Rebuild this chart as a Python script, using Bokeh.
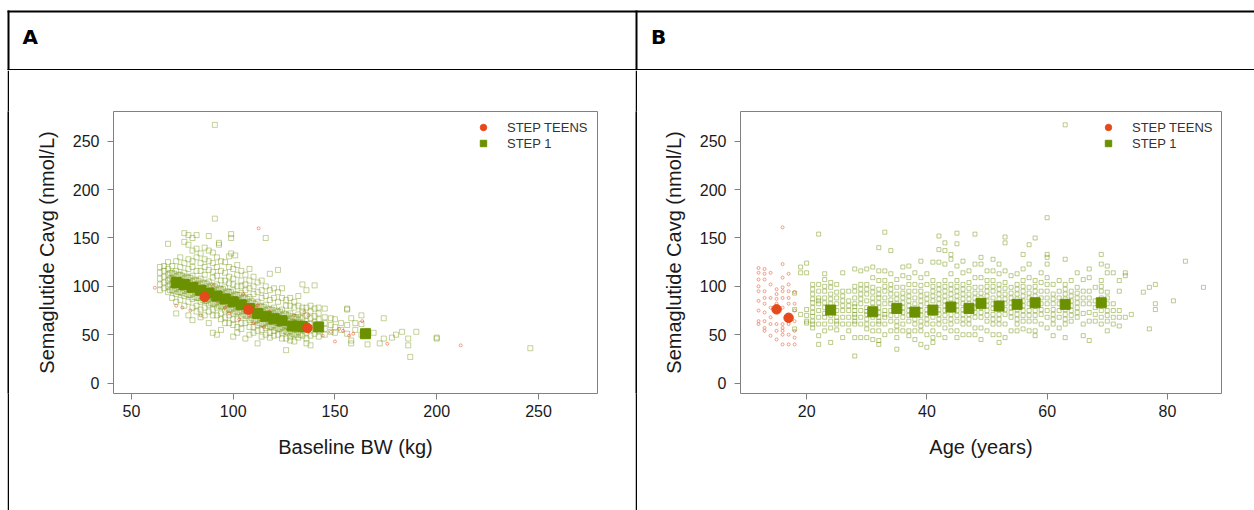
from bokeh.plotting import figure
from bokeh.models import (Range1d, Legend, LegendItem, FixedTicker, Spacer)
from bokeh.core.properties import value
from bokeh.layouts import row, column
from bokeh.embed import file_html
from bokeh.resources import INLINE

ORANGE = "#E8491B"
GREEN = "#6B9100"
FRAME = "#808080"
FONT = "Liberation Sans"
TXT = "#1a1a1a"

# ---------------- Panel A : Cavg vs baseline body weight ----------------
a_step1_bw = [64, 66, 68, 70, 72, 74, 76, 78, 80, 82, 84, 86, 88, 90, 91, 92, 93, 94,
              96, 98, 99, 100, 101, 102, 104, 106, 108, 110, 112, 114, 116, 118, 120,
              122, 124, 126, 128, 130, 132, 134, 136, 138, 140, 142, 145, 148, 150, 153,
              156, 158, 160, 163, 166, 169, 172, 174, 178, 180, 183, 186, 187, 190, 200, 246]
a_step1_cavg = [
    [120, 114, 108, 102, 96],
    [121, 116, 110, 104, 98],
    [144, 125, 118, 112, 106, 100, 94],
    [121, 114, 108, 102, 96, 88],
    [126, 116, 110, 104, 98, 92, 84, 72],
    [130, 120, 112, 106, 100, 94, 86],
    [155, 146, 124, 114, 108, 102, 96, 90, 80],
    [153, 143, 128, 118, 109, 103, 97, 91, 84, 70],
    [150, 137, 126, 120, 111, 105, 99, 93, 87, 78, 65],
    [153, 139, 130, 116, 106, 100, 94, 88, 80, 74],
    [134, 124, 116, 108, 102, 96, 90, 84, 76, 68],
    [140, 128, 120, 112, 103, 97, 91, 85, 78, 70],
    [152, 137, 126, 117, 105, 99, 93, 87, 81, 74, 62],
    [135, 124, 115, 109, 100, 94, 88, 82, 76, 70, 52],
    [267, 170],
    [130, 120, 111, 102, 96, 90, 84, 78, 70, 50],
    [145, 143],
    [126, 116, 106, 97, 91, 85, 79, 72, 66, 55],
    [125, 114, 106, 99, 93, 87, 81, 75, 68, 62],
    [131, 120, 110, 103, 94, 88, 82, 76, 70, 62],
    [154, 150, 134],
    [118, 108, 102, 96, 90, 84, 78, 72, 66, 60, 48],
    [132],
    [122, 112, 100, 91, 85, 79, 73, 66, 58, 52],
    [116, 106, 100, 93, 87, 81, 75, 69, 62, 56],
    [112, 102, 96, 88, 82, 76, 70, 62, 46],
    [118, 106, 98, 89, 83, 77, 71, 65, 58, 50],
    [110, 100, 92, 83, 77, 71, 65, 58, 52],
    [104, 94, 84, 78, 72, 66, 60, 54, 41],
    [106, 96, 88, 79, 73, 67, 61, 55, 48],
    [150, 100, 90, 81, 75, 69, 63, 57, 50],
    [113, 96, 86, 76, 70, 64, 58, 52, 47],
    [98, 88, 78, 72, 66, 60, 54, 49],
    [117, 94, 84, 74, 68, 62, 56, 50],
    [98, 88, 76, 70, 64, 58, 52, 46],
    [86, 80, 71, 65, 59, 53, 46, 34],
    [88, 80, 72, 66, 60, 54, 48, 44],
    [84, 78, 68, 62, 56, 50, 43],
    [90, 80, 71, 65, 59, 53, 47],
    [102, 78, 74, 67, 61, 55, 49],
    [96, 78, 70, 64, 58, 52, 46, 41],
    [80, 74, 67, 61, 55, 49, 39],
    [101, 77, 69, 63, 57, 51],
    [78, 72, 66, 60, 54, 48],
    [77, 68, 62, 56, 50],
    [67, 60, 53], [66, 58, 52], [62, 55], [77, 76, 60, 51], [67, 44, 41], [62, 55],
    [70, 61, 50], [54, 40], [52], [41], [67, 46], [47], [50], [53], [46, 39], [27],
    [53], [47, 46], [36],
]
# dense core of the STEP 1 cloud (odd body weights)
a_core_bw = [69, 71, 73, 75, 77, 79, 81, 83, 85, 87, 89, 91, 93, 95, 97, 99, 101, 103,
             105, 107, 109, 111, 113, 115, 117, 119, 121, 123, 125, 127, 129, 131, 133]
a_core_cavg = [
    [114, 108, 102, 96], [113, 107, 101, 95], [112, 106, 100, 94], [111, 105, 99, 93],
    [110, 104, 98, 92], [109, 103, 97, 91], [107, 101, 95, 89], [106, 100, 94, 88],
    [104, 98, 92, 86], [103, 97, 91, 85], [101, 95, 89, 83], [100, 94, 88, 82],
    [98, 92, 86, 80], [97, 91, 85, 79], [95, 89, 83, 77], [94, 88, 82, 76],
    [92, 86, 80, 74], [91, 85, 79, 73], [89, 83, 77, 71], [87, 81, 75, 69],
    [85, 79, 73, 67], [82, 76, 70, 64], [80, 74, 68, 62], [79, 73, 67, 61],
    [77, 71, 65, 59], [76, 70, 64, 58], [75, 69, 63, 57], [74, 68, 62, 56],
    [72, 66, 60, 54], [70, 64, 58, 52], [69, 63, 57, 51], [68, 62, 56, 50],
    [68, 62, 56, 50],
]
a_teens_bw = [61.5, 112.5, 72, 75, 79, 78, 82, 84, 88, 90, 92, 96, 98, 100, 103, 105,
              108, 110, 112, 115, 118, 120, 124, 126, 128, 130, 133, 135, 137, 135.5,
              144, 148, 150, 152, 154, 157, 159, 163.4, 175.7, 211.8]
a_teens_cavg = [98.5, 160, 80, 78, 75, 96, 104, 70, 95, 100, 85, 78, 72, 88, 66, 92,
                70, 62, 80, 58, 74, 66, 62, 66, 56, 70, 60, 73, 70, 58,
                49, 53, 43, 56, 54, 49, 51, 64, 40.6, 39]
a_step1_bin_bw = [72, 76, 80, 84, 88, 92, 96, 100, 104, 108, 112, 116, 120, 124, 129, 134, 142, 165]
a_step1_bin_cavg = [104, 102, 99, 96, 93, 90, 87, 84, 81, 77, 72, 69, 66.5, 64.5, 59, 58.5, 58, 51]
a_teens_bin_bw = [86, 107.5, 136.5]
a_teens_bin_cavg = [89, 76, 57]

# ---------------- Panel B : Cavg vs age ----------------
b_teens_age = [12, 13, 14, 15, 16, 17, 18]
b_teens_cavg = [
    [119, 114, 107, 100, 95, 85, 75, 64, 61],
    [118, 113, 107, 95, 88, 82, 73, 64, 57, 54],
    [114, 102, 88, 78, 68, 61, 49],
    [97, 92, 87, 82, 61, 54, 45],
    [161, 123, 109, 99, 95, 88, 78, 61, 57, 54, 50, 40],
    [113, 102, 95, 88, 82, 61, 50, 40],
    [94, 82, 75, 64, 54, 47, 40],
]
b_step1_age = list(range(18, 74)) + [74, 76, 77, 78, 81, 83, 86]
b_step1_cavg = [
    [93, 76, 56],
    [120, 114, 71],
    [124, 114, 76, 70, 64, 62],
    [102, 97, 92, 87, 83, 78, 73, 69, 64, 61, 57],
    [154, 102, 95, 88, 85, 82, 75, 68, 61, 49, 40],
    [113, 107, 100, 95, 88, 83, 78, 72, 68, 61, 54],
    [104, 99, 92, 87, 82, 76, 70, 64, 57, 42],
    [102, 94, 88, 82, 75, 68, 64, 61, 55],
    [114, 95, 90, 85, 80, 75, 68, 61, 47],
    [95, 85, 80, 75, 68, 61, 54],
    [118, 100, 95, 88, 82, 79, 75, 71, 68, 64, 61, 47, 28],
    [116, 102, 97, 92, 87, 82, 75, 68, 61, 47],
    [118, 102, 97, 92, 85, 78, 74, 71, 66, 61, 56, 47],
    [120, 109, 99, 94, 88, 83, 78, 72, 68, 61, 54, 45],
    [140, 116, 106, 97, 92, 88, 83, 78, 73, 68, 64, 61, 54, 44, 40],
    [156, 116, 106, 100, 95, 88, 82, 75, 71, 68, 61, 50],
    [137, 113, 102, 97, 92, 86, 82, 75, 70, 64, 54],
    [107, 99, 92, 87, 82, 78, 75, 70, 64, 59, 54, 47, 35],
    [120, 111, 99, 93, 88, 83, 78, 73, 68, 61, 54],
    [121, 109, 102, 95, 90, 85, 80, 75, 70, 64, 54, 49],
    [114, 102, 95, 88, 82, 76, 71, 66, 61, 54, 45],
    [126, 109, 101, 95, 90, 85, 80, 75, 70, 64, 59, 54, 40],
    [113, 102, 92, 87, 82, 76, 71, 66, 61, 50, 37],
    [125, 106, 100, 95, 90, 85, 78, 73, 68, 61, 54, 47, 42],
    [152, 138, 125, 102, 97, 92, 87, 82, 76, 71, 66, 61, 50],
    [145, 137, 123, 106, 100, 95, 90, 85, 80, 75, 70, 64, 57, 47],
    [133, 128, 113, 102, 97, 92, 87, 82, 76, 71, 66, 61, 54],
    [155, 144, 121, 106, 100, 95, 90, 85, 80, 75, 70, 64, 54, 47],
    [126, 114, 102, 97, 92, 87, 82, 76, 71, 66, 61, 50],
    [116, 104, 98, 92, 87, 82, 76, 71, 66, 61, 50],
    [154, 123, 109, 99, 93, 88, 83, 78, 73, 68, 57, 50],
    [130, 123, 109, 99, 93, 88, 83, 78, 73, 68, 57, 45],
    [116, 106, 100, 95, 90, 85, 80, 75, 70, 64, 54],
    [128, 116, 106, 100, 95, 88, 82, 77, 71, 66, 61, 50],
    [123, 113, 102, 97, 92, 87, 82, 76, 71, 66, 61, 50, 42],
    [151, 145, 116, 104, 98, 92, 87, 82, 76, 71, 61, 47],
    [111, 99, 93, 88, 83, 78, 73, 68, 54],
    [113, 102, 97, 92, 87, 82, 76, 71, 66, 61, 54],
    [133, 118, 106, 100, 95, 90, 85, 80, 75, 70, 64, 56],
    [143, 123, 109, 99, 93, 88, 82, 75, 70, 64, 54],
    [150, 106, 100, 95, 90, 85, 80, 75, 70, 64, 54, 49],
    [114, 104, 95, 88, 82, 76, 71, 61],
    [171, 133, 130, 123, 109, 102, 95, 88, 82, 75, 68, 57],
    [102, 92, 87, 82, 76, 71, 66, 61, 49],
    [106, 95, 88, 82, 75, 68, 57],
    [267, 128, 102, 97, 92, 87, 82, 76, 71, 66, 61, 47],
    [106, 95, 90, 85, 80, 75, 70, 64],
    [114, 99, 93, 88, 83, 78, 73, 68],
    [107, 95, 88, 82, 72, 61, 49],
    [118, 109, 95, 88, 82, 73, 64, 44],
    [99, 85, 78, 71, 64],
    [133, 123, 106, 100, 95, 88, 82, 75, 68, 61],
    [121, 114, 94, 88, 82, 75, 70, 64, 54],
    [114, 82, 75, 68, 61],
    [106, 95, 75, 68, 59],
    [114, 111, 68],
    [71], [94], [99, 56], [102, 82, 76], [85], [126], [99],
]
b_step1_bin_age = [24, 31, 35, 38, 41, 44, 47, 49, 52, 55, 58, 63, 69]
b_step1_bin_cavg = [75.5, 73.7, 77.2, 73.4, 75.5, 78.6, 77.2, 82.4, 79.6, 81.4, 83, 81.4, 83]
b_teens_bin_age = [15, 17]
b_teens_bin_cavg = [76.2, 67.5]

y_ticks = [0, 50, 100, 150, 200, 250]
panel_letters = ["A", "B"]


def flatten(xs, groups):
    fx, fy = [], []
    for x, g in zip(xs, groups):
        for v in g:
            fx.append(x)
            fy.append(v)
    return fx, fy


def blank(width, height, color="white"):
    f = figure(width=width, height=height, output_backend="svg", toolbar_location=None,
               x_axis_location=None, y_axis_location=None, min_border=0,
               min_border_left=0, min_border_right=0, min_border_top=0,
               min_border_bottom=0)
    f.grid.visible = False
    f.outline_line_color = None
    f.background_fill_color = color
    f.border_fill_color = color
    return f


def make_panel(width, bl, br, xr, xticks, xlabel):
    p = figure(width=width, height=440, x_range=Range1d(*xr),
               y_range=Range1d(-10.8, 280.8), output_backend="svg",
               toolbar_location=None, min_border_left=bl, min_border_right=br,
               min_border_top=41, min_border_bottom=117)
    p.background_fill_color = "white"
    p.border_fill_color = "white"
    p.outline_line_color = FRAME
    p.outline_line_width = 1
    p.grid.visible = False
    for ax in (p.xaxis[0], p.yaxis[0]):
        ax.axis_line_color = None
        ax.major_tick_line_color = FRAME
        ax.major_tick_out = 6
        ax.major_tick_in = 0
        ax.minor_tick_line_color = None
        ax.major_label_text_font = FONT
        ax.major_label_text_font_size = "16px"
        ax.major_label_text_color = TXT
        ax.axis_label_text_font = FONT
        ax.axis_label_text_font_size = "20px"
        ax.axis_label_text_font_style = "normal"
        ax.axis_label_text_color = TXT
    p.xaxis.ticker = FixedTicker(ticks=xticks)
    p.yaxis.ticker = FixedTicker(ticks=y_ticks)
    p.xaxis.major_label_standoff = 5
    p.yaxis.major_label_standoff = 8
    p.xaxis.axis_label_standoff = 16
    p.yaxis.axis_label_standoff = 12
    p.xaxis.axis_label = xlabel
    p.yaxis.axis_label = "Semaglutide Cavg (nmol/L)"
    return p


def add_data(p, s1x, s1y, tx, ty, s1bx, s1by, tbx, tby, s1_size, s1_alpha, t_size):
    p.scatter(x=s1x, y=s1y, marker="square", size=s1_size, fill_color=None,
              line_color=GREEN, line_alpha=s1_alpha, line_width=1)
    p.scatter(x=tx, y=ty, marker="circle", size=t_size, fill_color=None,
              line_color=ORANGE, line_alpha=0.5, line_width=1)
    rs = p.scatter(x=s1bx, y=s1by, marker="square", size=10, fill_color=GREEN,
                   line_color=GREEN)
    rt = p.scatter(x=tbx, y=tby, marker="circle", size=9.5, fill_color=ORANGE,
                   line_color=ORANGE)
    return rs, rt


def add_legend(p, rs, rt, loc):
    leg = Legend(items=[LegendItem(label="STEP TEENS", renderers=[rt]),
                        LegendItem(label="STEP 1", renderers=[rs])],
                 location=loc, border_line_color=None, background_fill_alpha=0,
                 padding=0, margin=0, spacing=0, glyph_width=20, glyph_height=16,
                 label_height=16, label_standoff=14, label_text_font=FONT,
                 label_text_font_size="13px", label_text_color="#333333")
    p.add_layout(leg)


# ---- header strip (table borders and panel letters), pixel space ----
hdr = blank(1254, 70)
hdr.x_range = Range1d(0, 1254)
hdr.y_range = Range1d(70, 0)
hdr.quad(left=[7, 7, 7, 635], right=[1254, 1254, 9, 637],
         top=[10, 68.5, 10, 10], bottom=[12, 69.5, 70, 70],
         fill_color="black", line_color=None)
hdr.text(x=[22, 650.5], y=[36.5, 36.5], text=panel_letters,
         text_font=value("DejaVu Sans"), text_font_style="bold",
         text_font_size="20px", text_color="black", text_baseline="middle")

# ---- panel A ----
pa = make_panel(626, 104, 38, (41.2, 279.0), [50, 100, 150, 200, 250], "Baseline BW (kg)")
ax1, ay1 = flatten(a_step1_bw, a_step1_cavg)
ax2, ay2 = flatten(a_core_bw, a_core_cavg)
rs, rt = add_data(pa, ax1 + ax2, ay1 + ay2, a_teens_bw, a_teens_cavg,
                  a_step1_bin_bw, a_step1_bin_cavg, a_teens_bin_bw, a_teens_bin_cavg,
                  5, 0.4, 3)
add_legend(pa, rs, rt, (360, 242))

# ---- panel B ----
pb = make_panel(617, 103, 33, (9.0, 89.0), [20, 40, 60, 80], "Age (years)")
bx_, by_ = flatten(b_step1_age, b_step1_cavg)
tbx_, tby_ = flatten(b_teens_age, b_teens_cavg)
rs2, rt2 = add_data(pb, bx_, by_, tbx_, tby_, b_step1_bin_age, b_step1_bin_cavg,
                    b_teens_bin_age, b_teens_bin_cavg, 4, 0.45, 3)
add_legend(pb, rs2, rt2, (358, 242))

body = row(Spacer(width=7, height=440), blank(2, 440, "black"), pa,
           blank(2, 440, "black"), pb)
layout = column(hdr, body)
open("out.html", "w").write(file_html(layout, INLINE))
